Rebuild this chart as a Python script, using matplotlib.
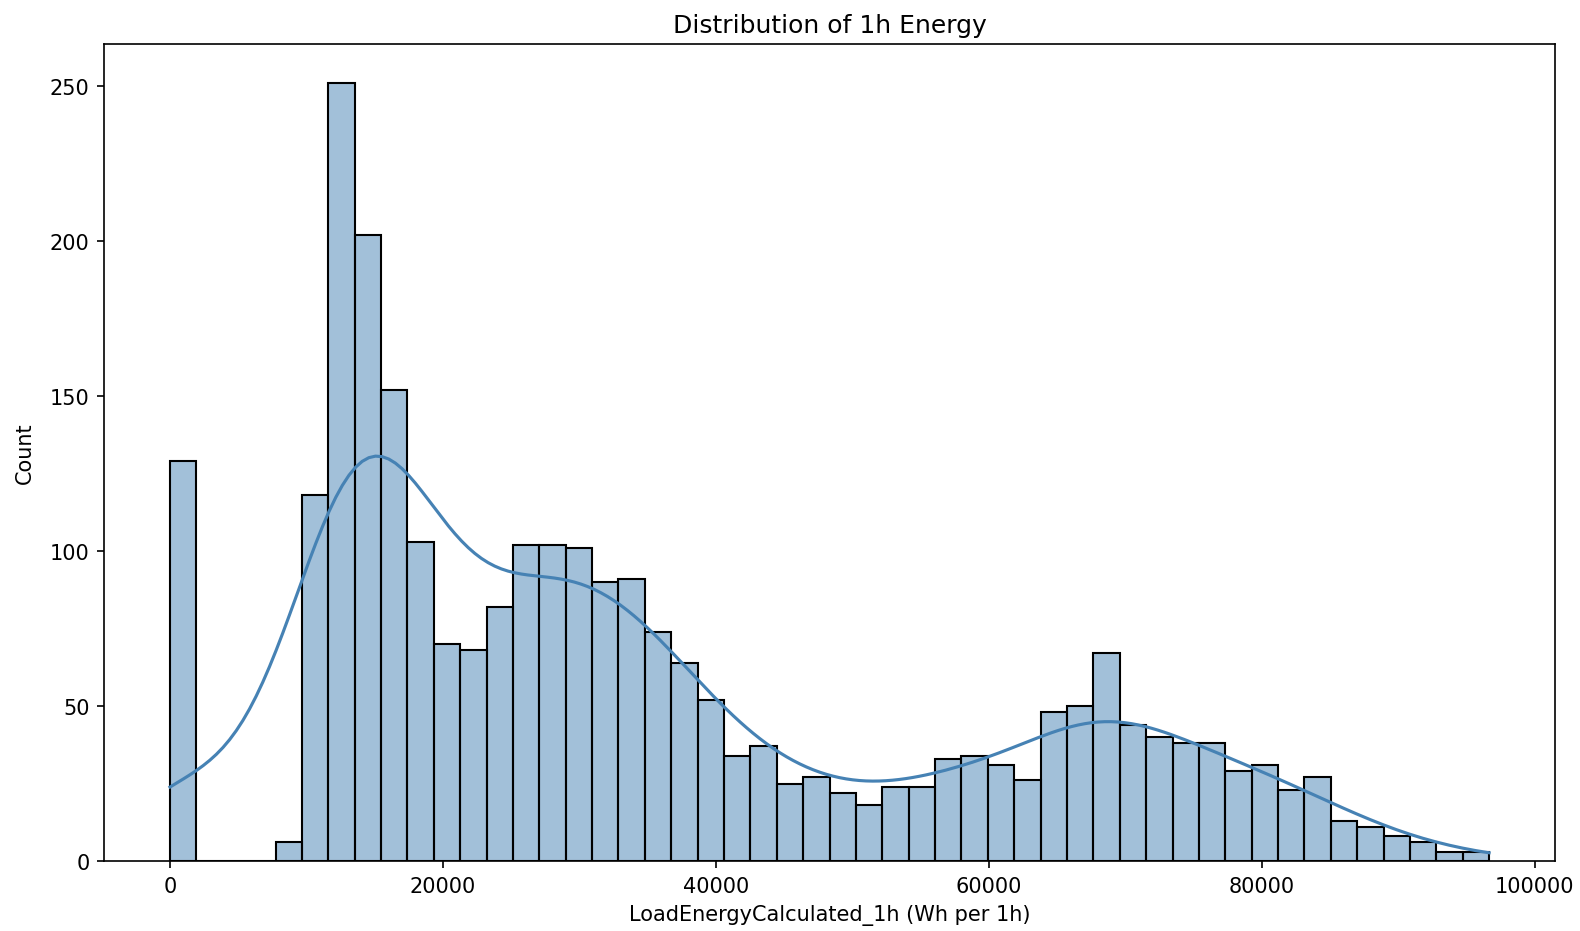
import numpy as np
import matplotlib
matplotlib.use("Agg")
import matplotlib.pyplot as plt
import seaborn as sns

# histogram: 50 equal bins from 0 to the max value
max_energy = 96650
counts = [129, 0, 0, 0, 6, 118, 251, 202, 152, 103,
          70, 68, 82, 102, 102, 101, 90, 91, 74, 64,
          52, 34, 37, 25, 27, 22, 18, 24, 24, 33,
          34, 31, 26, 48, 50, 67, 44, 40, 38, 38,
          29, 31, 23, 27, 13, 11, 8, 6, 3, 3]

edges = np.linspace(0, max_energy, len(counts) + 1)
centers = (edges[:-1] + edges[1:]) / 2
energy = np.repeat(centers, counts)  # one value per counted hour

fig = plt.figure(figsize=(10.54, 6.213), dpi=150)
ax = fig.add_axes([0.0658, 0.0751, 0.9178, 0.8766])

sns.histplot(energy, bins=len(counts), binrange=(0, max_energy), kde=True,
             color='steelblue', kde_kws={'cut': 1, 'clip': (0, max_energy)}, ax=ax)

ax.set_title('Distribution of 1h Energy')
ax.set_xlabel('LoadEnergyCalculated_1h (Wh per 1h)')
ax.set_ylabel('Count', labelpad=7)

fig.savefig('out.png', dpi=150)
